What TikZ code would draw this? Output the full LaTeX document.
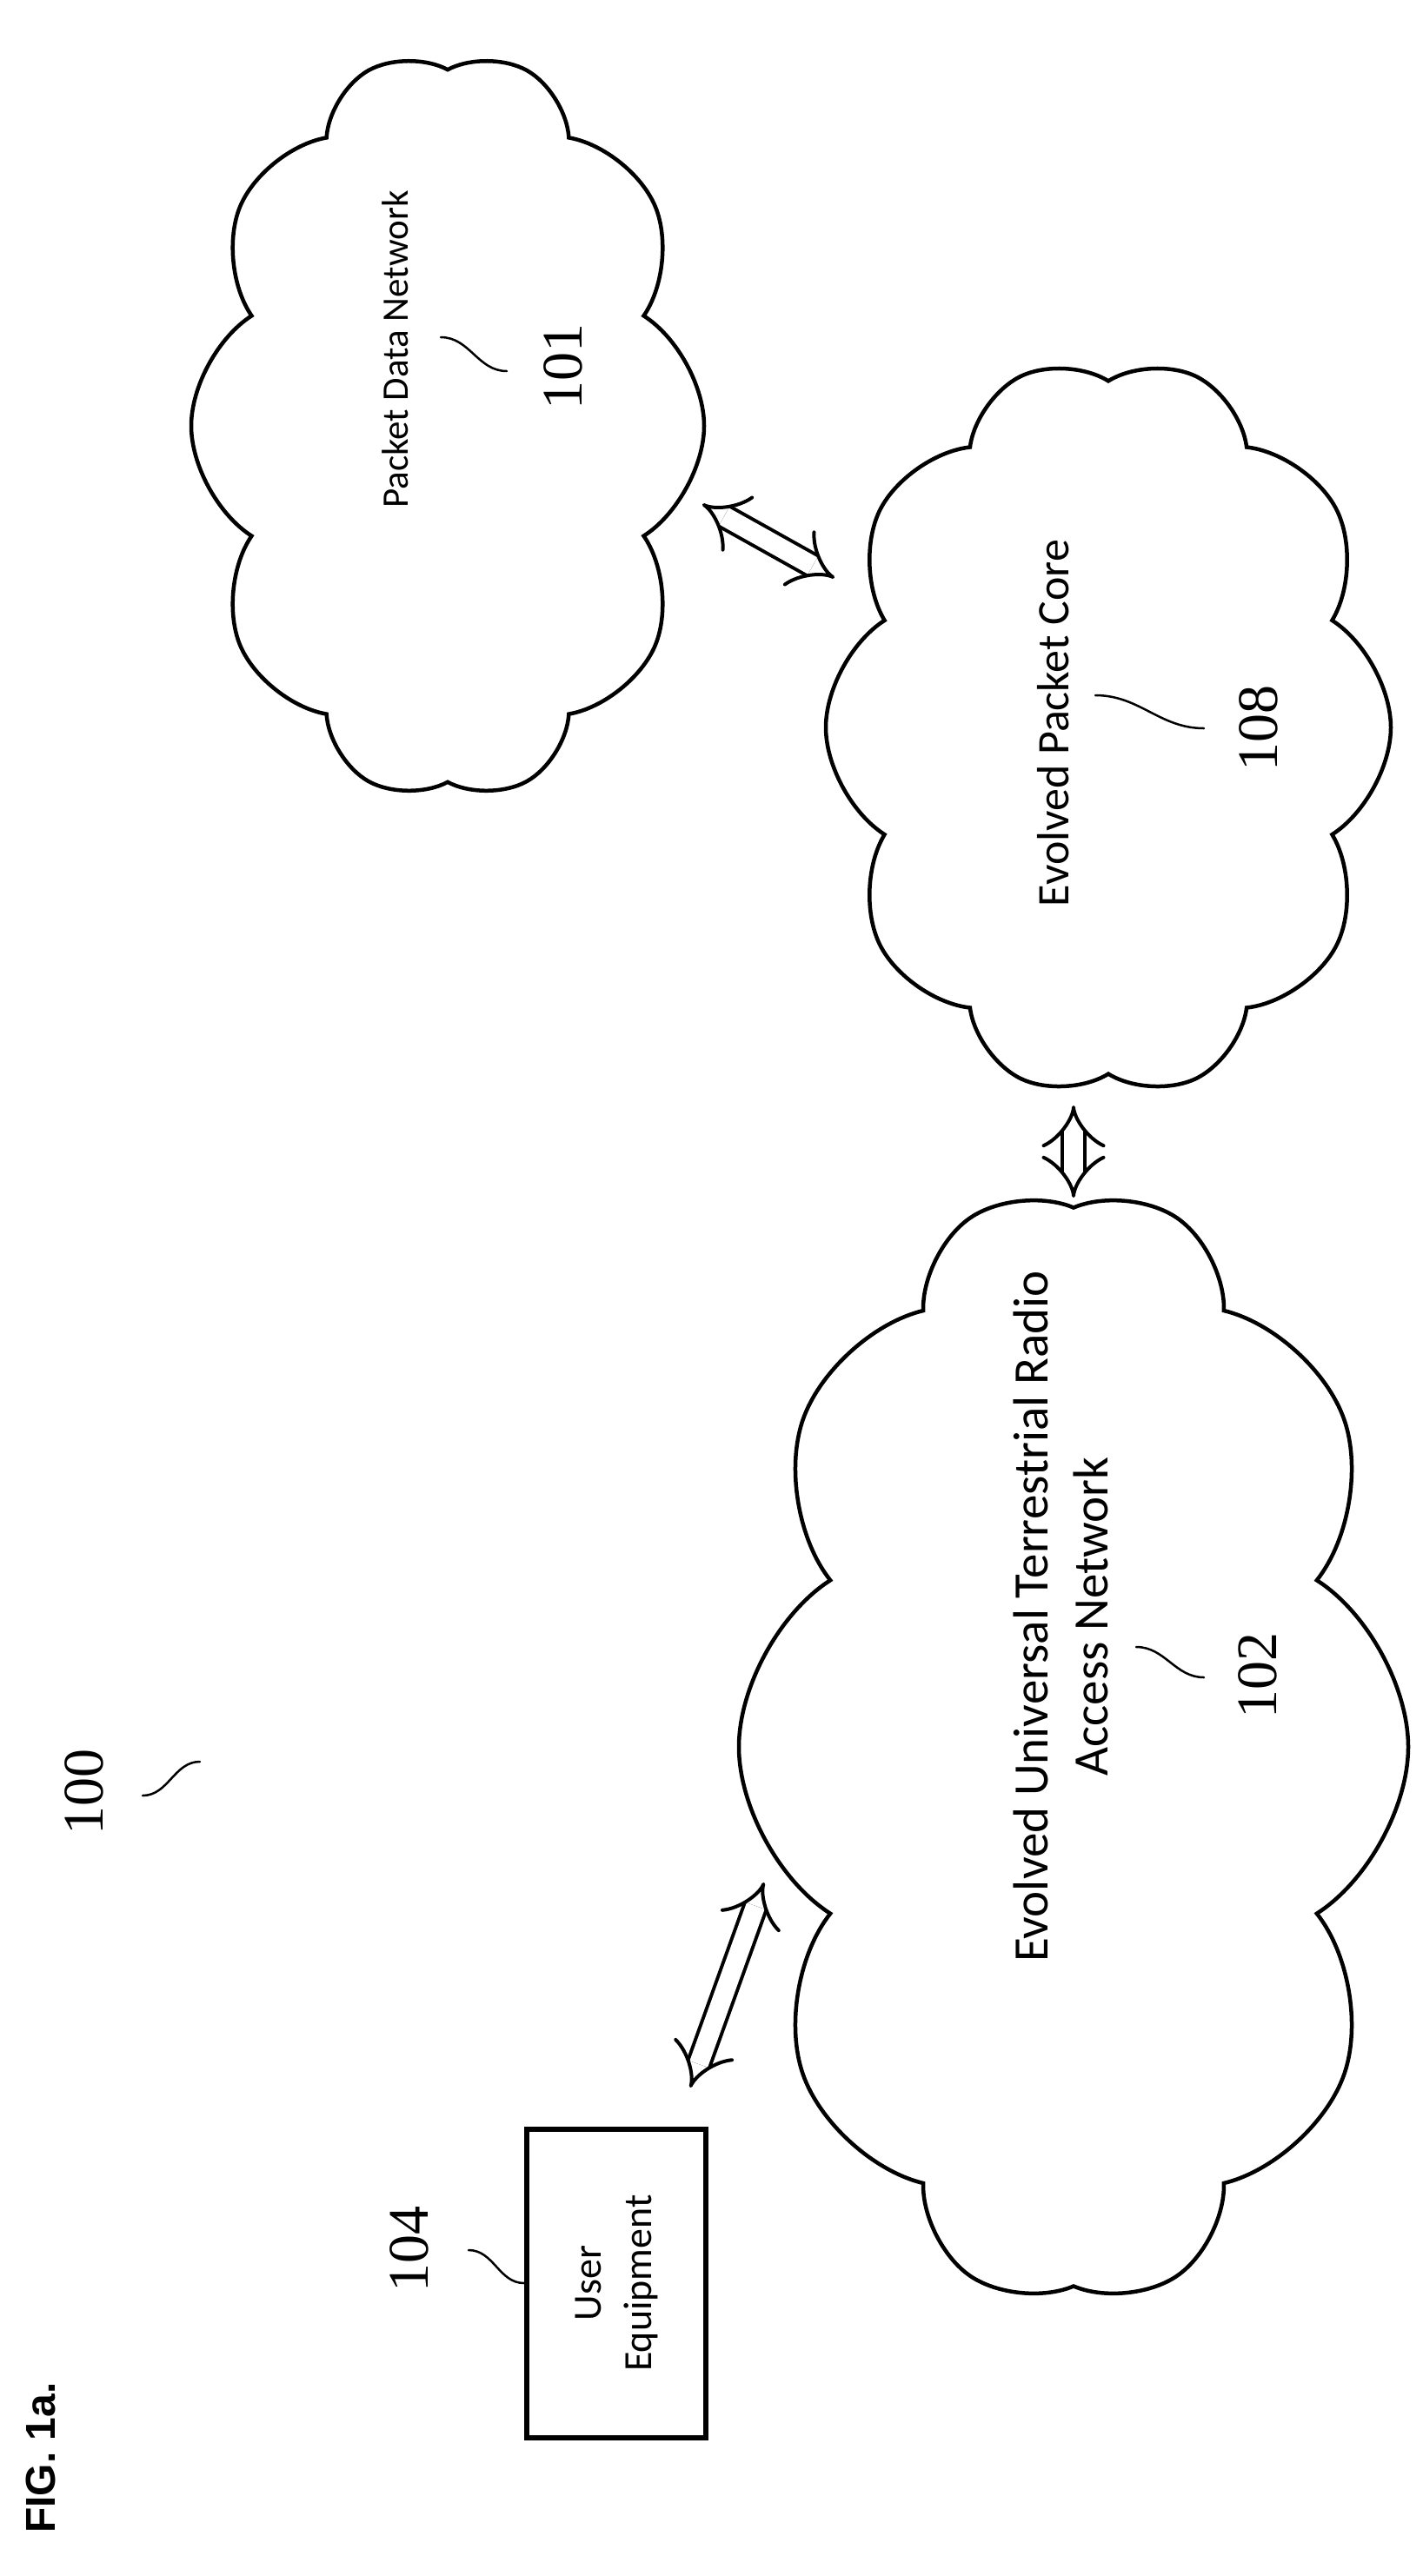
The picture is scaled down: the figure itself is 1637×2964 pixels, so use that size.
\documentclass[tikz,border=0pt]{standalone}
\usepackage{fontspec}
\setmainfont{Carlito}
\newfontfamily\numfont{Liberation Serif}
\newfontfamily\figfont{Liberation Sans}
\usetikzlibrary{shapes.symbols,arrows.meta}
\tikzset{
  netcloud/.style={cloud, cloud puffs=10, cloud puff arc=115, draw, line width=4.5pt, rotate=90},
  numlabel/.style={rotate=90, font=\fontsize{66}{70}\numfont},
  dblarrow/.style={double, double distance=22pt, line width=4pt,
    {Implies[length=24pt,width=58pt]}-{Implies[length=24pt,width=58pt]}},
  squig/.style={line width=2.5pt, line cap=round}
}
\newcommand{\squiggle}[2]{\draw[squig] (#1) to[out=0,in=180] (#2);}
\begin{document}
\begin{tikzpicture}[x=1pt,y=-1pt]
  \useasboundingbox (0,0) rectangle (1637,2964);
  % figure label and reference numeral
  \node[rotate=90, font=\fontsize{48}{50}\figfont\bfseries] (fig) at (47,2828) {FIG. 1a.};
  \node[numlabel] (n100) at (97,2062) {100};
  \coordinate (s100a) at (164,2066);
  \coordinate (s100b) at (230,2027);
  \squiggle{s100a}{s100b}
  % user equipment
  \node[draw, line width=6pt, rotate=90, minimum width=355pt, minimum height=206pt, align=center,
        font=\fontsize{46}{58}\selectfont] (ue) at (709,2627) {User\\Equipment};
  \node[numlabel] (n104) at (471,2588) {104};
  \coordinate (s104a) at (539,2589);
  \coordinate (s104b) at (603,2627);
  \squiggle{s104a}{s104b}
  % clouds
  \node[netcloud, minimum width=1280pt, minimum height=770pt] (eutran) at (1235,2010) {};
  \node[netcloud, minimum width=850pt, minimum height=650pt] (epc) at (1275,837) {};
  \node[netcloud, minimum width=860pt, minimum height=590pt] (pdn) at (515,490) {};
  % cloud texts
  \node[rotate=90, align=center, font=\fontsize{57}{69}\selectfont] (eutrantxt) at (1220,1860)
    {Evolved Universal Terrestrial Radio\\Access Network};
  \node[numlabel] (n102) at (1447,1928) {102};
  \coordinate (s102a) at (1307,1895);
  \coordinate (s102b) at (1385,1930);
  \squiggle{s102a}{s102b}
  \node[rotate=90, font=\fontsize{52}{56}\selectfont] (epctxt) at (1212,832) {Evolved Packet Core};
  \node[numlabel] (n108) at (1448,838) {108};
  \coordinate (s108a) at (1260,800);
  \coordinate (s108b) at (1385,838);
  \squiggle{s108a}{s108b}
  \node[rotate=90, font=\fontsize{43}{48}\selectfont] (pdntxt) at (455,402) {Packet Data Network};
  \node[numlabel] (n101) at (648,422) {101};
  \coordinate (s101a) at (507,388);
  \coordinate (s101b) at (583,427);
  \squiggle{s101a}{s101b}
  % links
  \coordinate (ueend) at (794,2402);
  \coordinate (eutranend) at (879,2166);
  \coordinate (epcbot) at (1235,1272);
  \coordinate (eutrantop) at (1235,1378);
  \coordinate (pdnend) at (808,580);
  \coordinate (epcend) at (960,665);
  \draw[dblarrow] (ueend) -- (eutranend);
  \draw[dblarrow] (epcbot) -- (eutrantop);
  \draw[dblarrow] (pdnend) -- (epcend);
\end{tikzpicture}
\end{document}
